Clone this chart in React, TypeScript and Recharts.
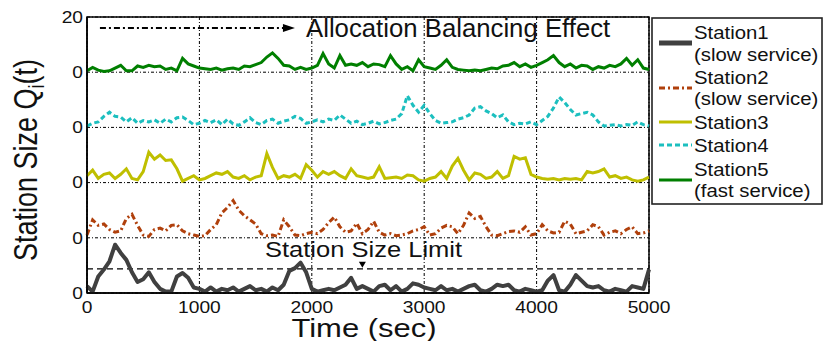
import React from 'react';
import {
  LineChart, Line, XAxis, YAxis, CartesianGrid, ReferenceLine, ReferenceArea, ReferenceDot,
} from 'recharts';

// queue length of each station, read every 50 s (0..5000)
const STATION1 = [
  0.5, 0.1, 1.2, 1.7, 2.3, 3.5, 2.9, 2.4, 1.5, 0.8, 1.0, 1.5, 0.8, 0.3, 0.1, 0.1, 1.2, 1.45, 1.1, 0.4,
  0.3, 0.1, 0.4, 0.1, 0.3, 0.2, 0.4, 0.1, 0.3, 0.5, 0.2, 0.3, 0.1, 0.4, 0.2, 0.6, 1.6, 1.8, 2.2, 1.5,
  0.3, 0.1, 0.2, 0.3, 0.2, 0.4, 0.6, 1.1, 0.3, 0.5, 0.3, 0.1, 0.5, 0.6, 0.2, 0.5, 0.1, 0.3, 0.7, 0.6,
  0.4, 0.3, 0.2, 0.5, 0.2, 0.3, 0.1, 0.3, 0.5, 0.6, 0.2, 0.1, 0.3, 0.6, 0.5, 0.6, 0.2, 0.1, 0.3, 0.2,
  0.1, 0.2, 0.9, 1.3, 0.2, 0.1, 0.6, 1.3, 0.9, 0.5, 0.4, 0.5, 0.2, 0.1, 0.3, 0.2, 0.1, 0.5, 0.4, 0.3, 1.7,
];
const STATION2 = [
  0.2, 1.3, 0.9, 1.0, 0.6, 0.4, 0.5, 1.4, 1.7, 0.9, 0.2, 0.1, 0.6, 0.7, 0.5, 0.9, 0.95, 0.5, 0.3, 0.2,
  0.1, 0.15, 0.6, 0.95, 1.8, 2.2, 2.7, 2.0, 1.6, 1.3, 1.0, 0.3, 0.15, 0.2, 0.1, 1.3, 0.8, 0.2, 0.15, 0.3,
  0.4, 0.3, 0.6, 1.1, 1.5, 0.8, 0.4, 0.5, 1.05, 0.3, 0.6, 1.2, 0.4, 0.2, 0.3, 0.15, 0.2, 0.3, 0.5, 0.6,
  0.8, 0.2, 0.3, 0.7, 0.9, 0.8, 0.3, 0.9, 1.8, 1.4, 1.55, 0.8, 0.2, 0.15, 0.3, 0.45, 0.5, 0.4, 0.8, 0.2,
  0.3, 0.95, 0.5, 0.35, 0.4, 1.2, 1.0, 0.3, 0.4, 0.5, 0.95, 0.8, 0.2, 0.4, 0.5, 0.3, 0.6, 0.8, 0.3, 0.35, 0.5,
];
const STATION3 = [
  0.5, 0.9, 0.3, 0.6, 0.7, 0.3, 0.6, 1.0, 0.3, 0.2, 0.8, 2.2, 1.7, 2.0, 1.6, 1.65, 1.0, 0.1, 0.3, 0.5,
  0.2, 0.3, 0.5, 0.7, 0.6, 0.8, 0.4, 0.3, 0.5, 0.2, 0.4, 0.5, 2.1, 1.1, 0.3, 0.5, 0.4, 0.6, 0.3, 1.3,
  0.9, 0.4, 0.8, 0.6, 0.8, 0.5, 0.3, 1.0, 0.5, 0.4, 0.3, 0.4, 1.15, 0.3, 0.35, 0.4, 0.3, 0.55, 0.5, 0.2,
  0.1, 0.3, 0.4, 0.8, 0.3, 1.2, 1.75, 0.9, 0.2, 0.7, 0.6, 0.3, 0.4, 0.8, 0.3, 0.5, 1.9, 1.7, 1.8, 0.6,
  0.4, 0.3, 0.25, 0.3, 0.2, 0.3, 0.25, 0.3, 0.2, 0.8, 0.7, 0.8, 1.0, 0.4, 0.5, 0.3, 0.4, 0.2, 0.1, 0.2, 0.4,
];
const STATION4 = [
  0.1, 0.3, 0.4, 0.8, 1.1, 0.8, 0.75, 0.4, 0.7, 0.3, 0.5, 0.4, 0.55, 0.3, 0.6, 0.4, 0.7, 0.75, 0.5, 0.2,
  0.3, 0.5, 0.35, 0.55, 0.2, 0.6, 0.25, 0.15, 0.4, 0.7, 0.35, 0.2, 0.5, 0.6, 0.3, 0.45, 0.55, 0.8, 0.65, 0.3,
  0.4, 0.55, 0.4, 0.6, 0.5, 0.9, 0.6, 0.3, 0.45, 0.2, 0.3, 0.45, 0.25, 0.35, 0.5, 0.6, 1.0, 2.3, 1.6, 1.1,
  1.6, 1.0, 0.5, 0.3, 0.35, 0.4, 0.6, 0.7, 0.9, 1.4, 1.5, 1.2, 1.0, 0.7, 0.9, 0.4, 0.2, 0.3, 0.25, 0.4,
  0.2, 0.5, 0.8, 1.4, 2.2, 1.8, 1.3, 0.9, 1.0, 1.1, 0.9, 0.4, 0.1, 0.15, 0.2, 0.1, 0.2, 0.15, 0.4, 0.2, 0.1,
];
const STATION5 = [
  0.1, 0.35, 0.15, 0.05, 0.1, 0.3, 0.5, 0.1, 0.1, 0.45, 0.35, 0.5, 0.4, 0.45, 0.2, 0.3, 0.1, 1.0, 0.6, 0.45,
  0.3, 0.25, 0.2, 0.3, 0.15, 0.25, 0.3, 0.2, 0.45, 0.4, 0.55, 0.7, 1.1, 1.4, 1.0, 0.5, 0.45, 0.2, 0.35, 0.2,
  0.3, 0.5, 1.35, 0.6, 0.3, 1.2, 0.5, 0.6, 0.5, 0.7, 0.4, 0.6, 0.55, 0.4, 1.2, 0.6, 0.2, 0.4, 0.1, 0.9,
  0.4, 0.3, 0.2, 0.5, 0.9, 0.35, 0.2, 0.15, 0.1, 0.15, 0.1, 0.2, 0.3, 0.25, 0.45, 0.5, 0.7, 0.4, 0.6, 0.35,
  0.5, 0.7, 0.9, 1.2, 0.7, 0.4, 0.6, 0.3, 0.5, 0.45, 0.2, 0.4, 0.3, 0.5, 0.4, 0.6, 1.0, 0.5, 0.9, 0.3, 0.2,
];
const TIME_STEP = 50;
const X_TICKS = [0, 1000, 2000, 3000, 4000, 5000];
const Y_TICKS = [0, 4, 8, 12, 16, 20];
const SIZE_LIMIT = 1.75;
const LANE = 4; // vertical spacing between stacked stations

const data = STATION1.map((_, i) => ({
  t: i * TIME_STEP,
  s1: STATION1[i],
  s2: STATION2[i] + LANE,
  s3: STATION3[i] + LANE * 2,
  s4: STATION4[i] + LANE * 3,
  s5: STATION5[i] + LANE * 4,
}));

const FONT = '"Liberation Sans", Arial, Helvetica, sans-serif';
const INK = '#111';

const XTick = ({ x, y, payload }: any) => (
  <text transform={`translate(${x},${y + 20}) scale(1.2,1)`} textAnchor="middle"
    fontSize={16} fontFamily={FONT} fill={INK}>{payload.value}</text>
);
const YTick = ({ x, y, payload }: any) => (
  <text transform={`translate(${x - 4},${y + 5.7}) scale(1.2,1)`} textAnchor="end"
    fontSize={16} fontFamily={FONT} fill={INK}>{payload.value === 20 ? '20' : '0'}</text>
);

const ArrowRight = ({ cx, cy }: any) => (
  <polygon points={`${cx},${cy} ${cx - 12},${cy - 4} ${cx - 12},${cy + 4}`} fill="#000" />
);
const ArrowDown = ({ cx, cy }: any) => (
  <polygon points={`${cx},${cy - 1} ${cx - 3.5},${cy - 7} ${cx + 3.5},${cy - 7}`} fill="#000" />
);

const legendItems = [
  { y: 43, color: '#404040', width: 5, dash: undefined, lines: [[39.3, 'Station1'], [60.5, '(slow service)']] },
  { y: 88, color: '#b0400c', width: 3, dash: '6 3 2 3', lines: [[84.3, 'Station2'], [104.5, '(slow service)']] },
  { y: 122, color: '#bfbf00', width: 3, dash: undefined, lines: [[129, 'Station3']] },
  { y: 145, color: '#1cbfbf', width: 3, dash: '5 3', lines: [[152.3, 'Station4']] },
  { y: 180, color: '#007f00', width: 3, dash: undefined, lines: [[176, 'Station5'], [197, '(fast service)']] },
];

export default function App() {
  return (
    <div style={{ position: 'absolute', left: 0, top: 0, width: 825, height: 341, background: '#fff' }}>
      <LineChart width={825} height={341} data={data} margin={{ top: 17, right: 176, bottom: 0, left: 47 }}>
        <CartesianGrid stroke="#000" strokeDasharray="3 2 1 2" strokeWidth={1} />
        <XAxis type="number" dataKey="t" domain={[0, 5000]} ticks={X_TICKS} height={48}
          tickSize={0} tickMargin={0} tick={<XTick />} axisLine={{ stroke: '#000', strokeWidth: 1.5 }} />
        <YAxis type="number" domain={[0, 20]} ticks={Y_TICKS} width={40}
          tickSize={0} tickMargin={0} tick={<YTick />} axisLine={{ stroke: '#000', strokeWidth: 1.5 }} />
        <ReferenceArea x1={0} x2={5000} y1={0} y2={20} fill="none" stroke="#000" strokeWidth={1.5} />
        <ReferenceLine y={SIZE_LIMIT} stroke="#000" strokeDasharray="6 4" strokeWidth={1.2} />
        <ReferenceLine segment={[{ x: 115, y: 19.2 }, { x: 1760, y: 19.2 }]} stroke="#000"
          strokeDasharray="6 3 2 3" strokeWidth={2} />
        <ReferenceDot x={1850} y={19.2} r={0} shape={<ArrowRight />} />
        <ReferenceDot x={2450} y={SIZE_LIMIT} r={0} shape={<ArrowDown />} />
        <Line type="linear" dataKey="s1" stroke="#404040" strokeWidth={4} dot={false} isAnimationActive={false} strokeLinejoin="round" />
        <Line type="linear" dataKey="s2" stroke="#b0400c" strokeWidth={3} strokeDasharray="6 3 2 3" dot={false} isAnimationActive={false} />
        <Line type="linear" dataKey="s3" stroke="#bfbf00" strokeWidth={3} dot={false} isAnimationActive={false} />
        <Line type="linear" dataKey="s4" stroke="#1cbfbf" strokeWidth={3} strokeDasharray="5 3" dot={false} isAnimationActive={false} />
        <Line type="linear" dataKey="s5" stroke="#007f00" strokeWidth={3} dot={false} isAnimationActive={false} />
      </LineChart>
      <svg width={825} height={341} style={{ position: 'absolute', left: 0, top: 0, pointerEvents: 'none' }}
        fontFamily={FONT} fill={INK}>
        <text transform="translate(37,160) rotate(-90) scale(1,1.2)" textAnchor="middle" fontSize={27}>
          Station Size Q<tspan dy={6} fontSize={18}>i</tspan><tspan dy={-6}>(t)</tspan>
        </text>
        <text transform="translate(364,337) scale(1.24,1)" textAnchor="middle" fontSize={25}>Time (sec)</text>
        <text transform="translate(306,36.7) scale(1.03,1)" fontSize={25}>Allocation Balancing Effect</text>
        <text transform="translate(265,257.3) scale(1.16,1)" fontSize={22}>Station Size Limit</text>
        <rect x={652} y={18} width={170} height={186} fill="#fff" stroke="#222" strokeWidth={1.6} />
        {legendItems.map((it) => (
          <g key={it.y}>
            <line x1={659} x2={692} y1={it.y} y2={it.y} stroke={it.color} strokeWidth={it.width}
              strokeDasharray={it.dash} />
            {it.lines.map(([by, label]) => (
              <text key={label as string} transform={`translate(694,${by}) scale(1.1,1)`} fontSize={18.5}>{label}</text>
            ))}
          </g>
        ))}
      </svg>
    </div>
  );
}
